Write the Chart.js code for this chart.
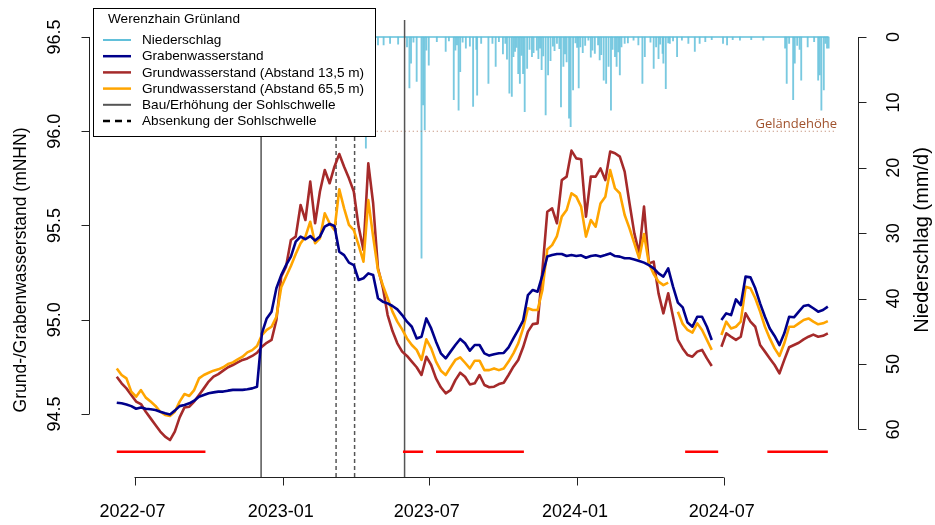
<!DOCTYPE html>
<html lang="de">
<head>
<meta charset="UTF-8">
<title>Werenzhain Grünland</title>
<script src="https://cdn.jsdelivr.net/npm/chart.js"></script>
<style>
  html, body { margin: 0; padding: 0; background: #fff; }
</style>
</head>
<body>
<canvas id="chart" width="935" height="525"></canvas>
<script>
// days are counted from 2022-07-01 (day 0)
const tickDays = [0, 184, 365, 549, 731];
const tickLabels = ['2022-07', '2023-01', '2023-07', '2024-01', '2024-07'];
const levelTicks = [94.5, 95.0, 95.5, 96.0, 96.5];
const rainTicks = [0, 10, 20, 30, 40, 50, 60];

// water levels, one value every 6 days starting 2022-06-09 (day -22)
const levelStartDay = -22;
const levelStepDay = 6;

const ditchLevel = [
  94.560, 94.557, 94.551, 94.542, 94.528, 94.535, 94.528, 94.525, 94.521, 94.512,
  94.504, 94.498, 94.518, 94.542, 94.548, 94.557, 94.571, 94.592, 94.601, 94.610,
  94.615, 94.619, 94.619, 94.624, 94.628, 94.628, 94.628, 94.631, 94.636, 94.645,
  94.928, 95.007, 95.043, 95.167, 95.237, 95.290, 95.335, 95.414, 95.441, 95.427,
  95.444, 95.420, 95.441, 95.494, 95.508, 95.497, 95.361, 95.343, 95.303, 95.290,
  95.211, 95.220, 95.246, 95.237, 95.114, 95.096, 95.087, 95.073, 95.055, 95.025,
  94.990, 94.963, 94.901, 94.910, 95.007, 94.954, 94.884, 94.822, 94.795, 94.831,
  94.866, 94.898, 94.875, 94.836, 94.866, 94.866, 94.822, 94.810, 94.817, 94.822,
  94.824, 94.854, 94.901, 94.946, 94.995, 95.131, 95.158, 95.149, 95.237, 95.335,
  95.343, 95.349, 95.349, 95.338, 95.343, 95.338, 95.342, 95.329, 95.338, 95.342,
  95.335, 95.343, 95.352, 95.338, 95.335, 95.326, 95.326, 95.320, 95.312, 95.303,
  95.290, 95.273, 95.246, 95.229, 95.273, 95.176, 95.091, 95.066, 94.985, 94.963,
  95.016, 95.016, 94.963, 94.893, null, 94.999, 95.034, 95.025, 95.108, 95.078,
  95.229, 95.225, 95.167, 95.087, 95.016, 94.954, 94.914, 94.866, 94.928, 95.016,
  95.013, 95.043, 95.073, 95.078, 95.061, 95.043, 95.052, 95.070
];

const gw13Level = [
  94.698, 94.663, 94.636, 94.601, 94.566, 94.553, 94.512, 94.477, 94.442, 94.407,
  94.380, 94.362, 94.407, 94.482, 94.535, 94.539, 94.566, 94.601, 94.636, 94.672,
  94.698, 94.712, 94.730, 94.748, 94.760, 94.774, 94.787, 94.795, 94.808, 94.825,
  94.857, 94.878, 94.893, 94.999, 95.229, 95.282, 95.423, 95.441, 95.609, 95.529,
  95.733, 95.512, 95.680, 95.794, 95.724, 95.812, 95.879, 95.812, 95.750, 95.680,
  95.494, 95.370, 95.830, 95.618, 95.273, 95.172, 95.025, 94.940, 94.875, 94.831,
  94.808, 94.778, 94.748, 94.707, 94.804, 94.760, 94.689, 94.642, 94.610, 94.627,
  94.680, 94.719, 94.698, 94.657, 94.663, 94.707, 94.654, 94.642, 94.645, 94.659,
  94.666, 94.707, 94.751, 94.787, 94.854, 94.937, 94.977, 94.981, 95.264, 95.573,
  95.591, 95.512, 95.741, 95.759, 95.897, 95.856, 95.851, 95.547, 95.759, 95.759,
  95.803, 95.741, 95.892, 95.883, 95.865, 95.786, 95.618, 95.458, 95.352, 95.600,
  95.299, 95.308, 95.140, 95.034, 95.140, 95.016, 94.893, 94.848, 94.813, 94.804,
  94.831, 94.840, 94.795, 94.755, null, 94.857, 94.928, 94.910, 94.893, 94.910,
  95.034, 94.990, 94.963, 94.866, 94.831, 94.795, 94.760, 94.716, 94.787, 94.854,
  94.866, 94.878, 94.896, 94.910, 94.921, 94.910, 94.915, 94.928
];

const gw65Level = [
  94.742, 94.707, 94.689, 94.619, 94.592, 94.627, 94.587, 94.566, 94.543, 94.512,
  94.495, 94.490, 94.512, 94.566, 94.606, 94.596, 94.627, 94.689, 94.707, 94.719,
  94.730, 94.737, 94.748, 94.765, 94.774, 94.790, 94.804, 94.827, 94.839, 94.861,
  94.919, 94.946, 94.963, 95.016, 95.172, 95.229, 95.285, 95.349, 95.406, 95.441,
  95.520, 95.406, 95.432, 95.565, 95.512, 95.476, 95.692, 95.591, 95.503, 95.476,
  95.396, 95.308, 95.635, 95.441, 95.264, 95.184, 95.114, 95.043, 94.990, 94.949,
  94.901, 94.866, 94.840, 94.787, 94.896, 94.848, 94.778, 94.730, 94.707, 94.748,
  94.787, 94.801, 94.772, 94.742, 94.783, 94.783, 94.733, 94.733, 94.742, 94.733,
  94.742, 94.778, 94.822, 94.875, 94.954, 95.061, 95.052, 95.052, 95.158, 95.373,
  95.396, 95.444, 95.547, 95.582, 95.671, 95.653, 95.600, 95.441, 95.529, 95.494,
  95.617, 95.653, 95.794, 95.697, 95.671, 95.556, 95.485, 95.405, 95.326, 95.455,
  95.299, 95.243, 95.202, 95.184, 95.197, null, 95.043, 94.978, 94.946, 94.932,
  94.981, 94.946, 94.893, 94.840, null, 94.919, 94.990, 94.954, 94.963, 94.990,
  95.175, 95.167, 95.114, 95.043, 94.963, 94.901, 94.848, 94.808, 94.875, 94.963,
  94.963, 94.981, 94.999, 95.007, 94.990, 94.976, 94.981, 94.993
];

// daily precipitation (only days with rain that are visible)
const rainDay = [
  287, 302, 309, 317, 327, 341, 343, 350, 356, 358, 360, 365, 375, 386, 396, 398,
  402, 404, 411, 420, 424, 425, 439, 444, 448, 460, 465, 468, 470, 476, 478, 482,
  484, 487, 493, 499, 501, 505, 510, 513, 524, 529, 532, 536, 539, 541, 544, 551,
  553, 563, 571, 577, 582, 585, 588, 591, 596, 598, 602, 608, 619, 625, 630, 633,
  644, 650, 655, 656, 659, 664, 673, 687, 695, 701, 708, 730, 735, 751, 780, 807,
  809, 817, 819, 825, 827, 835, 848, 850, 852, 855, 859, 861,
  // smaller days in the dense winter periods
  338, 346, 362, 390, 400, 407, 416, 430, 452, 457, 462, 472, 474, 480, 490, 495,
  503, 507, 516, 519, 521, 527, 534, 547, 549, 556, 559, 566, 568, 575, 579, 593,
  600, 604, 612, 640, 647, 652, 662, 668, 679, 716, 742, 765, 812, 822, 843, 857
];
const rainMm = [
  17.0, 1.2, 1.2, 1.0, 1.1, 7.8, 4.0, 6.8, 33.8, 10.4, 14.2, 4.3, 0.7, 2.2, 9.6, 2.0,
  11.2, 5.3, 1.7, 10.6, 1.9, 8.9, 7.1, 1.0, 4.5, 1.0, 8.6, 9.1, 3.0, 5.6, 7.1, 5.6,
  11.4, 4.8, 3.0, 2.0, 3.3, 5.0, 11.9, 5.8, 1.0, 10.7, 4.5, 3.8, 12.4, 13.7, 8.1, 7.8,
  1.5, 0.5, 2.5, 3.5, 6.6, 7.1, 4.5, 11.2, 3.0, 4.5, 5.8, 1.0, 0.5, 1.2, 7.1, 3.0,
  4.8, 3.3, 2.5, 4.0, 7.9, 1.0, 3.0, 1.0, 2.2, 1.0, 0.7, 1.0, 1.2, 0.5, 0.5, 1.7,
  7.1, 9.6, 4.0, 1.9, 6.6, 1.5, 6.6, 5.8, 11.2, 8.1, 1.7, 1.7,
  1.5, 0.8, 2.0, 0.6, 1.2, 0.8, 1.4, 1.0, 0.7, 2.6, 3.4, 2.2, 1.6, 2.8, 1.9, 2.4,
  1.7, 2.9, 3.6, 1.4, 2.1, 1.8, 2.6, 0.9, 1.6, 2.4, 1.3, 3.1, 2.0, 1.2, 2.7, 1.9,
  2.3, 1.5, 0.9, 0.8, 1.5, 1.1, 0.9, 0.6, 0.5, 0.4, 0.4, 0.4, 1.0, 1.3, 0.7, 1.0
];

// periods marked in red below the curves
const dryStart = [-22, 333, 374, 683, 785];
const dryEnd = [88, 358, 483, 724, 860];
const dryLevel = 94.3;

// weir events
const buildDays = [157, 335];
const lowerDays = [250, 273];

const groundLevel = 96.0;

const levelMin = 94.166, levelMax = 96.59;
const rainMin = -2.6, rainMax = 67.28;
const dayMin = -55.2, dayMax = 896.8;

const rainColor = '#62c0da';
const ditchColor = '#00008b';
const gw13Color = '#a52a2a';
const gw65Color = '#ffa500';
const tickFont = '18px "Liberation Sans", Arial, sans-serif';
const legendFont = '13.6px "Liberation Sans", Arial, sans-serif';

const levelDays = ditchLevel.map((_, i) => levelStartDay + i * levelStepDay);
const toPoints = vals => vals.map((v, i) => ({ x: levelDays[i], y: v }));

const dryPoints = [];
dryStart.forEach((s, i) => {
  dryPoints.push({ x: s, y: dryLevel }, { x: dryEnd[i], y: dryLevel }, { x: dryEnd[i] + 1, y: null });
});

function vline(day, color, width, dash, order) {
  return {
    data: [{ x: day, y: levelMin }, { x: day, y: levelMax }],
    borderColor: color, borderWidth: width, borderDash: dash,
    pointRadius: 0, order: order
  };
}

const legendItems = [
  { text: 'Niederschlag', color: rainColor, width: 2, dash: [] },
  { text: 'Grabenwasserstand', color: ditchColor, width: 2.5, dash: [] },
  { text: 'Grundwasserstand (Abstand 13,5 m)', color: gw13Color, width: 2.5, dash: [] },
  { text: 'Grundwasserstand (Abstand 65,5 m)', color: gw65Color, width: 2.5, dash: [] },
  { text: 'Bau/Erhöhung der Sohlschwelle', color: '#555', width: 2, dash: [] },
  { text: 'Absenkung der Sohlschwelle', color: '#000', width: 2.5, dash: [7, 5] }
];

function rotatedText(ctx, text, x, y) {
  ctx.save();
  ctx.translate(x, y);
  ctx.rotate(-Math.PI / 2);
  ctx.fillText(text, 0, 0);
  ctx.restore();
}

const rAxes = {
  id: 'rAxes',
  afterDraw(chart) {
    const { ctx, chartArea: a, scales } = chart;
    const x = scales.x, yL = scales.y, yR = scales.yR;
    ctx.save();
    ctx.strokeStyle = '#222';
    ctx.fillStyle = '#000';
    ctx.lineWidth = 1;
    ctx.font = tickFont;
    ctx.textAlign = 'center';
    ctx.textBaseline = 'middle';

    // bottom axis
    const yb = Math.round(a.bottom) + 0.5;
    ctx.beginPath();
    ctx.moveTo(x.getPixelForValue(tickDays[0]), yb);
    ctx.lineTo(x.getPixelForValue(tickDays[tickDays.length - 1]), yb);
    tickDays.forEach(d => {
      const px = Math.round(x.getPixelForValue(d)) + 0.5;
      ctx.moveTo(px, yb);
      ctx.lineTo(px, yb + 8);
    });
    ctx.stroke();
    tickDays.forEach((d, i) => ctx.fillText(tickLabels[i], x.getPixelForValue(d) - 2, 512));

    // left axis
    const xl = Math.round(a.left) - 0.5;
    ctx.beginPath();
    ctx.moveTo(xl, yL.getPixelForValue(levelTicks[0]));
    ctx.lineTo(xl, yL.getPixelForValue(levelTicks[levelTicks.length - 1]));
    levelTicks.forEach(v => {
      const py = Math.round(yL.getPixelForValue(v)) + 0.5;
      ctx.moveTo(xl, py);
      ctx.lineTo(xl - 8, py);
    });
    ctx.stroke();
    levelTicks.forEach(v => rotatedText(ctx, v.toFixed(1), 55, yL.getPixelForValue(v)));

    // right axis
    const xr = Math.round(a.right) + 0.5;
    ctx.beginPath();
    ctx.moveTo(xr, yR.getPixelForValue(rainTicks[0]));
    ctx.lineTo(xr, yR.getPixelForValue(rainTicks[rainTicks.length - 1]));
    rainTicks.forEach(v => {
      const py = Math.round(yR.getPixelForValue(v)) + 0.5;
      ctx.moveTo(xr, py);
      ctx.lineTo(xr + 8, py);
    });
    ctx.stroke();
    rainTicks.forEach(v => rotatedText(ctx, String(v), 894, yR.getPixelForValue(v)));

    // axis titles
    ctx.font = '17.5px "Liberation Sans", Arial, sans-serif';
    rotatedText(ctx, 'Grund-/Grabenwasserstand (mNHN)', 21, 270);
    ctx.font = '20px "Liberation Sans", Arial, sans-serif';
    rotatedText(ctx, 'Niederschlag (mm/d)', 922, 240);

    // ground level label
    ctx.font = '13px "Open Sans", sans-serif';
    ctx.fillStyle = '#a0522d';
    ctx.textAlign = 'right';
    ctx.textBaseline = 'alphabetic';
    ctx.fillText('Geländehöhe', 837, yL.getPixelForValue(groundLevel) - 3);

    // legend box
    ctx.fillStyle = '#fff';
    ctx.fillRect(93.5, 8.5, 282, 128);
    ctx.strokeStyle = '#000';
    ctx.strokeRect(93.5, 8.5, 282, 128);
    ctx.fillStyle = '#000';
    ctx.font = legendFont;
    ctx.textAlign = 'left';
    ctx.textBaseline = 'middle';
    ctx.fillText('Werenzhain Grünland', 108, 19);
    legendItems.forEach((it, i) => {
      const ly = 40 + i * 16.2;
      ctx.beginPath();
      ctx.strokeStyle = it.color;
      ctx.lineWidth = it.width;
      ctx.setLineDash(it.dash);
      ctx.moveTo(103, ly);
      ctx.lineTo(131, ly);
      ctx.stroke();
      ctx.setLineDash([]);
      ctx.fillText(it.text, 142, ly + 0.5);
    });
    ctx.restore();
  }
};

new Chart(document.getElementById('chart'), {
  type: 'line',
  data: {
    datasets: [
      {
        label: 'Grabenwasserstand', data: toPoints(ditchLevel),
        borderColor: ditchColor, borderWidth: 2.6, pointRadius: 0, order: 1
      },
      {
        label: 'Grundwasserstand (Abstand 65,5 m)', data: toPoints(gw65Level),
        borderColor: gw65Color, borderWidth: 2.6, pointRadius: 0, order: 2
      },
      {
        label: 'Grundwasserstand (Abstand 13,5 m)', data: toPoints(gw13Level),
        borderColor: gw13Color, borderWidth: 2.6, pointRadius: 0, order: 3
      },
      {
        label: 'dry', data: dryPoints,
        borderColor: '#ff0000', borderWidth: 2.5, pointRadius: 0, order: 4
      },
      vline(buildDays[0], '#000', 1, [], 5),
      vline(buildDays[1], '#555', 1.5, [], 5),
      vline(lowerDays[0], '#000', 1, [4, 3], 5),
      vline(lowerDays[1], '#555', 1.5, [4, 3], 5),
      {
        label: 'Geländehöhe',
        data: [{ x: levelStartDay, y: groundLevel }, { x: 871, y: groundLevel }],
        borderColor: 'rgba(160,82,45,0.75)', borderWidth: 1.2, borderDash: [1, 3],
        pointRadius: 0, order: 6
      },
      {
        type: 'bar', label: 'Niederschlag', yAxisID: 'yR',
        data: rainDay.map((d, i) => ({ x: d, y: rainMm[i] })),
        backgroundColor: 'rgba(98,192,218,0.85)', barThickness: 1.2, order: 7
      },
      {
        label: 'Niederschlag 0', yAxisID: 'yR',
        data: [{ x: levelStartDay, y: 0 }, { x: 861, y: 0 }],
        borderColor: rainColor, borderWidth: 1.3, pointRadius: 0, order: 7
      }
    ]
  },
  options: {
    responsive: false,
    devicePixelRatio: 1,
    animation: false,
    spanGaps: false,
    layout: { padding: { left: 90, right: 77.5, top: 20, bottom: 48 } },
    plugins: { legend: { display: false }, tooltip: { enabled: false } },
    elements: { line: { tension: 0, borderJoinStyle: 'round' } },
    scales: {
      x: { type: 'linear', min: dayMin, max: dayMax, offset: false, display: false },
      y: { type: 'linear', min: levelMin, max: levelMax, display: false },
      yR: { type: 'linear', min: rainMin, max: rainMax, reverse: true, display: false }
    }
  },
  plugins: [rAxes]
});
</script>
</body>
</html>
